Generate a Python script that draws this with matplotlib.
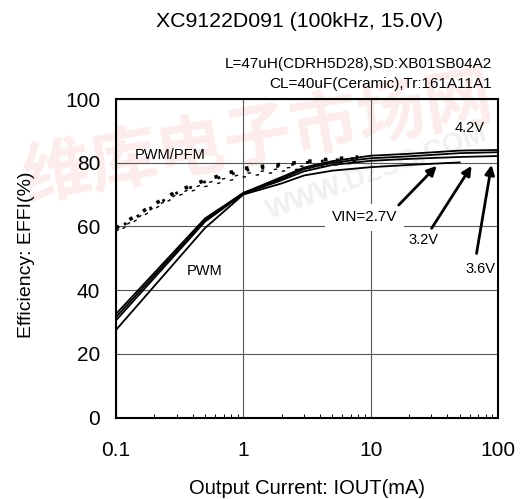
import numpy as np
import matplotlib.pyplot as plt
from matplotlib.ticker import FixedLocator, LogLocator, NullFormatter

plt.rcParams['font.family'] = ['Liberation Sans', 'DejaVu Sans']

# PWM (solid) efficiency curves
iout_pwm = [0.1, 0.5, 1, 2, 3, 5, 10, 20, 50, 100]
eff_pwm_42 = [32.5, 62.5, 70.5, 75.5, 78.5, 80.5, 82.2, 82.8, 83.8, 84.0]
eff_pwm_36 = [31.5, 62.0, 70.5, 75.0, 78.0, 80.0, 81.4, 82.0, 83.0, 83.3]
eff_pwm_32 = [30.5, 61.5, 70.2, 74.5, 77.3, 79.3, 80.6, 81.2, 81.8, 82.1]
iout_pwm_27 = [0.1, 0.5, 1, 2, 3, 5, 10, 20, 50]
eff_pwm_27 = [27.5, 59.5, 70.0, 73.5, 76.0, 77.5, 78.6, 79.3, 80.1]

# PWM/PFM (dotted) efficiency curves
iout_pfm = [0.1, 0.2, 0.3, 0.5, 1, 2, 3, 5, 8]
eff_pfm_42 = [59.5, 67.0, 71.0, 74.5, 78.2, 79.5, 80.3, 81.2, 81.8]
eff_pfm_36 = [59.0, 66.5, 70.5, 74.0, 77.5, 79.0, 80.0, 80.8, 81.4]
eff_pfm_32 = [58.5, 66.0, 70.0, 73.5, 76.5, 78.2, 79.0, 79.8, 80.5]
eff_pfm_27 = [58.0, 65.5, 69.5, 72.5, 75.5, 77.3, 78.2, 79.2, 80.0]

fig = plt.figure(figsize=(5.27, 4.99), dpi=100)
ax = fig.add_axes([0.2201, 0.1633, 0.7249, 0.6383])
ax.set_facecolor('none')

# faint watermark behind the chart
fig.text(0.49, 0.72, '维库电子市场网', rotation=10, fontsize=49, color='#fdecec',
         family=['Noto Sans CJK SC'], weight='bold', ha='center', va='center', zorder=-2)
fig.text(0.715, 0.655, 'WWW.DZSC.COM', rotation=20, fontsize=20, color='#f0f0f0',
         weight='bold', ha='center', va='center', zorder=-1)

for y in [eff_pwm_42, eff_pwm_36, eff_pwm_32]:
    ax.plot(iout_pwm, y, color='black', lw=1.3)
ax.plot(iout_pwm_27, eff_pwm_27, color='black', lw=1.3)

ax.plot(iout_pfm, eff_pfm_42, color='black', lw=2.6, linestyle=(0, (1, 3.4)))
ax.plot(iout_pfm, eff_pfm_36, color='black', lw=2.0, linestyle=(2, (1, 4.4)))
ax.plot(iout_pfm, eff_pfm_32, color='black', lw=1.0, linestyle=(0, (2.5, 7)))
ax.plot(iout_pfm, eff_pfm_27, color='black', lw=1.0, linestyle=(4, (2.5, 7)))

ax.set_xscale('log')
ax.set_xlim(0.1, 100)
ax.set_ylim(0, 100)
ax.xaxis.set_major_locator(FixedLocator([0.1, 1, 10, 100]))
ax.set_xticklabels(['0.1', '1', '10', '100'])
ax.xaxis.set_minor_locator(LogLocator(base=10, subs=np.arange(2, 10)))
ax.xaxis.set_minor_formatter(NullFormatter())
ax.set_yticks([0, 20, 40, 60, 80, 100])
ax.tick_params(axis='both', which='major', direction='in', length=0, labelsize=15)
ax.tick_params(axis='x', which='major', pad=17)
ax.tick_params(axis='y', which='major', pad=11.5)
ax.tick_params(axis='x', which='minor', direction='in', length=3, width=0.7)
ax.grid(True, which='major', color='#555555', lw=0.8)
for s in ax.spines.values():
    s.set_linewidth(1.5)

# labels inside the plot
ax.text(0.141, 82.4, 'PWM/PFM', fontsize=10.5, ha='left', va='center')
ax.text(0.5, 46, 'PWM', fontsize=10.5, ha='center', va='center')
ax.text(45.8, 91, '4.2V', fontsize=10.5, ha='left', va='center')
ax.text(8.9, 62.8, 'VIN=2.7V', fontsize=11, ha='center', va='center',
        bbox=dict(facecolor='white', edgecolor='none', pad=5))
ax.text(26.2, 55.7, '3.2V', fontsize=10.5, ha='center', va='center',
        bbox=dict(facecolor='white', edgecolor='none', pad=1))
ax.text(73, 46.6, '3.6V', fontsize=10.5, ha='center', va='center',
        bbox=dict(facecolor='white', edgecolor='none', pad=1))

arrows = [((16.6, 66.7), (33.0, 79.0)),
          ((30.1, 59.4), (62.0, 79.0)),
          ((67.8, 51.5), (88.9, 79.3))]
for tail, head in arrows:
    ax.annotate('', xy=head, xytext=tail,
                arrowprops=dict(arrowstyle='-|>', color='black', lw=2, mutation_scale=14,
                                shrinkA=0, shrinkB=0))

fig.text(0.569, 0.956, 'XC9122D091 (100kHz, 15.0V)', fontsize=15.3, ha='center', va='center')
fig.text(0.933, 0.871, 'L=47uH(CDRH5D28),SD:XB01SB04A2', fontsize=11, ha='right', va='center')
fig.text(0.933, 0.831, 'CL=40uF(Ceramic),Tr:161A11A1', fontsize=11, ha='right', va='center')
fig.text(0.583, 0.022, 'Output Current: IOUT(mA)', fontsize=14.5, ha='center', va='center')
fig.text(0.051, 0.49, 'Efficiency: EFFI(%)', fontsize=14, rotation=90, ha='center', va='center')

fig.savefig('out.png', dpi=100)
